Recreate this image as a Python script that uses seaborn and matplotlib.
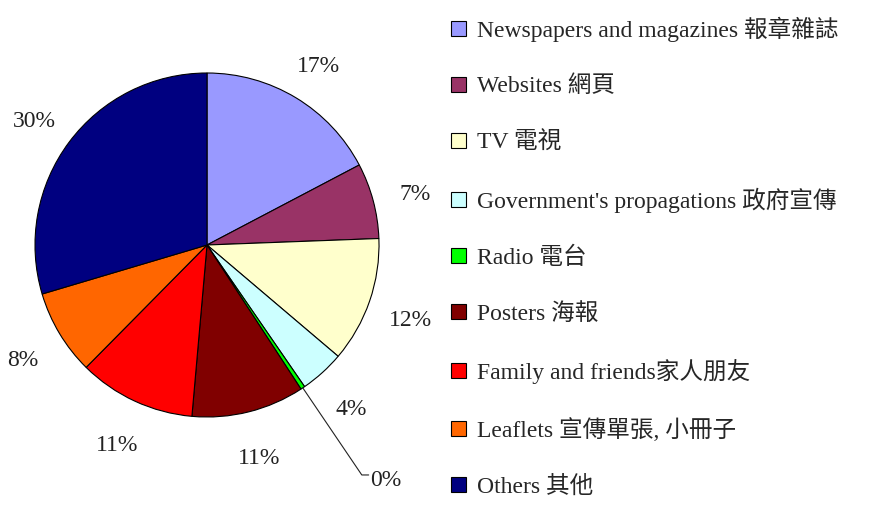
import numpy as np
import matplotlib.pyplot as plt
import seaborn as sns

# Data
categories = [
    "Newspapers and magazines 報章雜誌",
    "Websites 網頁",
    "TV 電視",
    "Government's propagations 政府宣傳",
    "Radio 電台",
    "Posters 海報",
    "Family and friends家人朋友",
    "Leaflets 宣傳單張, 小冊子",
    "Others 其他",
]
shares = [17.3, 7.1, 11.8, 4.2, 0.4, 10.6, 11.0, 8.0, 29.6]
colors = ["#9999FF", "#993366", "#FFFFCC", "#CCFFFF", "#00FF00",
          "#800000", "#FF0000", "#FF6600", "#000080"]

sns.set_theme(style="white")
plt.rcParams['font.family'] = ['Liberation Serif', 'Noto Sans CJK TC']

fig = plt.figure(figsize=(8.74, 5.07), dpi=100)
ax = fig.add_axes([35 / 874, 90 / 507, 344 / 874, 344 / 507])

wedges, texts, autotexts = ax.pie(
    shares, colors=colors, startangle=90, counterclock=False,
    autopct="%1.0f%%", pctdistance=1.25, radius=1.0,
    wedgeprops=dict(edgecolor="black", linewidth=0.8),
    textprops=dict(fontsize=17, color="#222222"),
)
ax.set_xlim(-1, 1)
ax.set_ylim(-1, 1)
ax.set_aspect("equal")

# nudge labels a little down like the original
for t in autotexts:
    x, y = t.get_position()
    t.set_position((x, y - 0.03))

# Leader line for the tiny Radio slice
w = wedges[4]
mid = np.deg2rad((w.theta1 + w.theta2) / 2)
x0, y0 = np.cos(mid), np.sin(mid)
ax.plot([x0, 0.90, 0.94], [y0, -1.337, -1.337], color="#222222", lw=0.8, clip_on=False)
autotexts[4].set_position((0.95, -1.37))
autotexts[4].set_ha("left")
autotexts[4].set_va("center")

fig.legend(wedges, categories, loc="upper left", bbox_to_anchor=(442 / 874, 1 - 7 / 507),
           frameon=False, fontsize=17, handlelength=0.6, handleheight=0.6,
           handletextpad=0.5, labelspacing=1.44, borderaxespad=0.0, borderpad=0.4)

plt.savefig("out.png", dpi=100)
